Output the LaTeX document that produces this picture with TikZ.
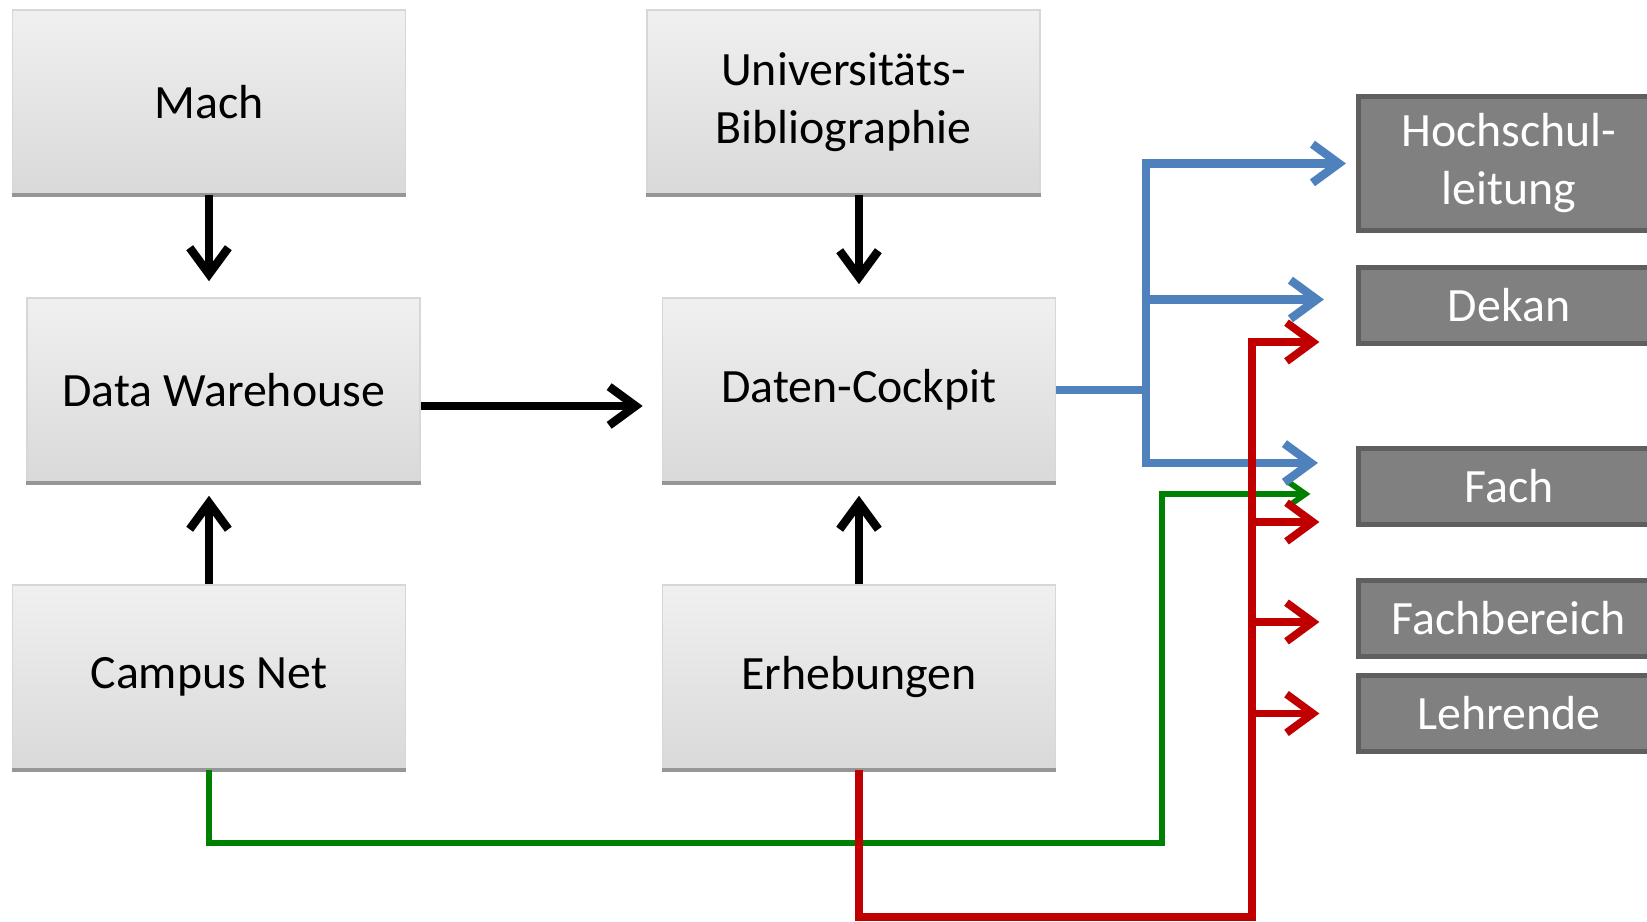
\documentclass[tikz,border=0pt]{standalone}
\usepackage{fontspec}
\setmainfont{Carlito}
\usetikzlibrary{arrows.meta,positioning,calc}
\definecolor{boxtop}{RGB}{240,240,240}
\definecolor{boxbot}{RGB}{217,217,217}
\definecolor{boxline}{RGB}{215,215,215}
\definecolor{shadowgray}{RGB}{150,150,150}
\definecolor{rolefill}{RGB}{128,128,128}
\definecolor{roleline}{RGB}{95,95,95}
\definecolor{flowblue}{RGB}{79,129,189}
\definecolor{flowred}{RGB}{192,0,0}
\definecolor{flowgreen}{RGB}{0,128,0}

\tikzset{
  source/.style={draw=boxline,top color=boxtop,bottom color=boxbot,
    minimum width=3.93cm,minimum height=1.84cm,inner sep=0pt,align=center,
    font=\fontsize{13.6}{16.5}\selectfont},
  role/.style={draw=roleline,line width=1.4pt,fill=rolefill,text=white,
    minimum width=3.01cm,inner sep=0pt,align=center,
    font=\fontsize{13.6}{16.5}\selectfont},
  flowblack/.style={black,line width=2.4pt,-{Straight Barb[length=7.5pt,width=11pt]}},
  flowb/.style={flowblue,line width=2.4pt,-{Straight Barb[length=7.5pt,width=11pt]}},
  flowr/.style={flowred,line width=2.2pt,-{Straight Barb[length=7.5pt,width=11pt]}},
  flowg/.style={flowgreen,line width=1.6pt,-{Straight Barb[length=5pt,width=7pt]}},
}

\begin{document}
\begin{tikzpicture}[x=0.01cm,y=-0.01cm]
  \useasboundingbox (0,0) rectangle (1647,922);
  \clip (0,0) rectangle (1647,922);
  % data sources
  \node[source] (mach) at (209,102) {Mach};
  \node[source] (dw) at (223.5,390) {Data Warehouse};
  \node[source] (campus) at (209,677) {Campus Net};
  \node[source] (ub) at (843.5,102) {Universitäts-\\Bibliographie};
  \node[source] (dc) at (859,390) {Daten-Cockpit};
  \node[source] (erh) at (859,677) {Erhebungen};
  \foreach \n in {mach,dw,campus,ub,dc,erh}{
    \draw[shadowgray,line width=1.1pt] (\n.south west) -- (\n.south east);
  }
  % recipients
  \node[role,minimum height=1.34cm] (hsl) at (1509,163.5) {Hochschul-\\leitung};
  \node[role,minimum height=0.76cm] (dekan) at (1509,305.5) {Dekan};
  \node[role,minimum height=0.76cm] (fach) at (1509,486.5) {Fach};
  \node[role,minimum height=0.76cm] (fb) at (1509,618.5) {Fachbereich};
  \node[role,minimum height=0.76cm] (lehr) at (1509,713.5) {Lehrende};
  % feeds into the warehouse and cockpit
  \draw[flowblack,shorten >=0.16cm] (mach.south) -- (mach.south |- dw.north);
  \draw[flowblack,shorten >=0.13cm] (campus.north) -- (campus.north |- dw.south);
  \draw[flowblack,shorten >=0.13cm] (dc.north |- ub.south) -- (dc.north);
  \draw[flowblack,shorten >=0.13cm] (erh.north) -- (dc.south);
  \draw[flowblack,shorten >=0.19cm] ([yshift=-0.16cm]dw.east) -- ([yshift=-0.16cm]dc.west);
  % reporting lines
  \coordinate (gturn) at (1162,843);
  \coordinate (bsplit) at (1146,390);
  \coordinate (rturn) at (1252,917);
  \draw[flowg] (campus.south) |- (gturn) |- ([xshift=-0.455cm,yshift=-0.075cm]fach.west);
  \draw[flowb] (dc.east) -- (bsplit) |- ([xshift=-0.1cm]hsl.west);
  \draw[flowb] (bsplit) |- ([xshift=-0.32cm,yshift=0.06cm]dekan.west);
  \draw[flowb] (bsplit) |- ([xshift=-0.38cm,yshift=0.235cm]fach.west);
  \draw[flowr] (erh.south) |- (rturn) |- ([xshift=-0.365cm,yshift=-0.365cm]dekan.west);
  \draw[flowr] (rturn) |- ([xshift=-0.365cm,yshift=-0.355cm]fach.west);
  \draw[flowr] (rturn) |- ([xshift=-0.365cm,yshift=-0.035cm]fb.west);
  \draw[flowr] (rturn) |- ([xshift=-0.365cm]lehr.west);
\end{tikzpicture}
\end{document}
